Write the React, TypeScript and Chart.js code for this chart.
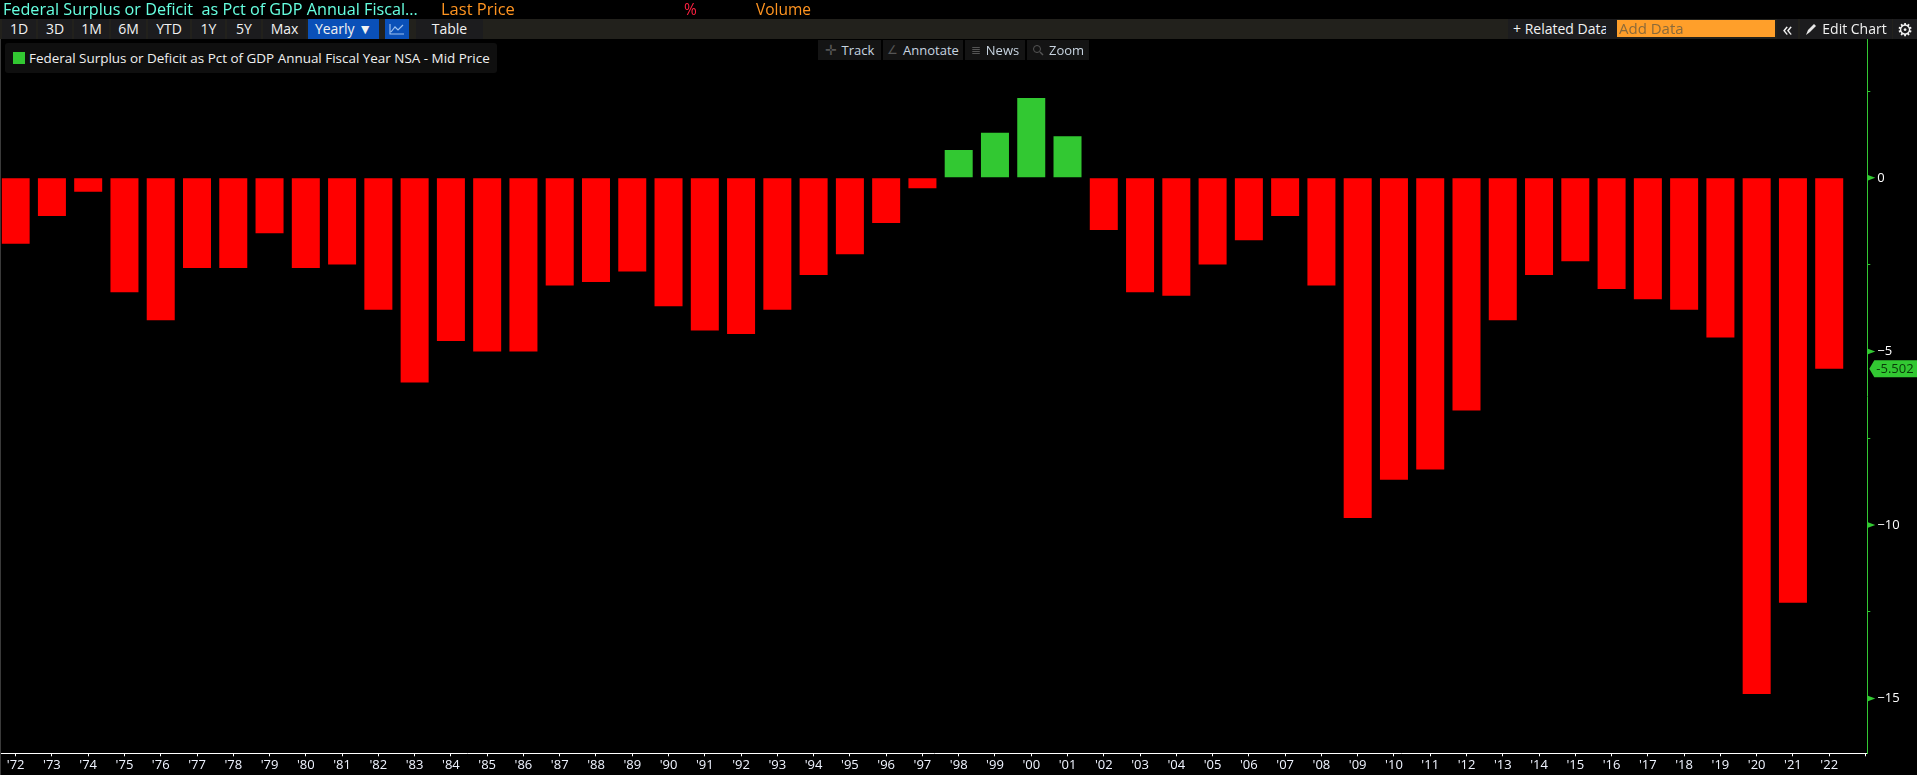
import React, { useEffect, useRef } from "react";
import { Chart, registerables } from "chart.js";

Chart.register(...registerables);

const years = [1972,1973,1974,1975,1976,1977,1978,1979,1980,1981,1982,1983,1984,1985,1986,1987,1988,1989,1990,1991,1992,1993,1994,1995,1996,1997,1998,1999,2000,2001,2002,2003,2004,2005,2006,2007,2008,2009,2010,2011,2012,2013,2014,2015,2016,2017,2018,2019,2020,2021,2022];
const deficitPct = [-1.9,-1.1,-0.4,-3.3,-4.1,-2.6,-2.6,-1.6,-2.6,-2.5,-3.8,-5.9,-4.7,-5.0,-5.0,-3.1,-3.0,-2.7,-3.7,-4.4,-4.5,-3.8,-2.8,-2.2,-1.3,-0.3,0.8,1.3,2.3,1.2,-1.5,-3.3,-3.4,-2.5,-1.8,-1.1,-3.1,-9.8,-8.7,-8.4,-6.7,-4.1,-2.8,-2.4,-3.2,-3.5,-3.8,-4.6,-14.87,-12.24,-5.502];
const xTickValues = [...years, 2023];
const yTickValues = [2.5, 0, -2.5, -5, -7.5, -10, -12.5, -15];
const yMajorTicks = [0, -5, -10, -15];
const lastValueLabel = "-5.502";
const headerTitle = "Federal Surplus or Deficit  as Pct of GDP Annual Fiscal...";
const legendText = "Federal Surplus or Deficit as Pct of GDP Annual Fiscal Year NSA - Mid Price";

const GREEN = "#32c832";
const RED = "#ff0000";
const FONT = "'Open Sans', 'Noto Sans', sans-serif";

const markers = {
  id: "axisMarkers",
  afterDraw(chart: any) {
    const { ctx, scales } = chart;
    const y = scales.y;
    const x0 = y.left;
    ctx.save();
    ctx.fillStyle = GREEN;
    for (const v of yMajorTicks) {
      const p = y.getPixelForValue(v);
      ctx.beginPath();
      ctx.moveTo(x0, p - 3);
      ctx.lineTo(x0 + 8, p);
      ctx.lineTo(x0, p + 3);
      ctx.closePath();
      ctx.fill();
    }
    const last = deficitPct[deficitPct.length - 1];
    const p = y.getPixelForValue(last);
    const L = x0 + 2, R = 1917;
    ctx.beginPath();
    ctx.moveTo(L, p);
    ctx.lineTo(L + 5, p - 8.5);
    ctx.lineTo(R, p - 8.5);
    ctx.lineTo(R, p + 8.5);
    ctx.lineTo(L + 5, p + 8.5);
    ctx.closePath();
    ctx.fill();
    ctx.fillStyle = "#0a3a0a";
    ctx.font = `13px ${FONT}`;
    ctx.textAlign = "left";
    ctx.textBaseline = "middle";
    ctx.fillText(lastValueLabel, L + 7, p + 0.5);
    ctx.restore();
  },
};

type BtnProps = { x: number; w: number; y?: number; h?: number; bg?: string; color?: string; children?: React.ReactNode; size?: number };
const Btn = ({ x, w, y = 19, h = 20, bg = "#1c1c1e", color = "#f2f2f2", children, size = 14 }: BtnProps) => (
  <div style={{ position: "absolute", left: x, top: y, width: w, height: h, background: bg, color, fontSize: size, lineHeight: h + "px", textAlign: "center", whiteSpace: "nowrap", overflow: "hidden", display: "flex", alignItems: "center", justifyContent: "center", gap: 5 }}>
    {children}
  </div>
);

const toolbar: [string, number, number][] = [["1D", 2, 34], ["3D", 38, 34], ["1M", 74, 35], ["6M", 111, 35], ["YTD", 148, 42], ["1Y", 192, 33], ["5Y", 227, 34], ["Max", 263, 43]];

export default function App() {
  const ref = useRef<HTMLCanvasElement>(null);
  useEffect(() => {
    const chart = new Chart(ref.current!, {
      type: "bar",
      data: {
        datasets: [{
          data: years.map((yr, i) => ({ x: yr, y: deficitPct[i] })),
          backgroundColor: deficitPct.map((v) => (v >= 0 ? GREEN : RED)),
          barPercentage: 0.772,
          categoryPercentage: 1,
          borderWidth: 0,
        }],
      },
      options: {
        animation: false,
        responsive: false,
        devicePixelRatio: 1,
        layout: { padding: { left: 1.5, top: 39, right: 0, bottom: 0 } },
        plugins: { legend: { display: false }, tooltip: { enabled: false } },
        scales: {
          x: {
            type: "linear",
            position: "bottom",
            offset: false,
            min: 1971.61,
            max: 2023.05,
            afterFit: (s: any) => { s.height = 21.7; s.paddingLeft = 0; s.paddingRight = 0; },
            afterBuildTicks: (s: any) => { s.ticks = xTickValues.map((value) => ({ value })); },
            grid: { offset: false, drawOnChartArea: false, drawTicks: true, tickLength: 3, tickColor: "#ffffff", tickWidth: 1 },
            border: { color: "#ffffff", width: 1 },
            ticks: {
              autoSkip: false, maxRotation: 0, color: "#f0f4ff", padding: 1,
              font: { family: FONT, size: 13 },
              callback: (v: any) => (v === 2023 ? "" : "'" + String(v).slice(2)),
            },
          },
          y: {
            type: "linear",
            position: "right",
            min: -16.58,
            max: 4.0,
            afterFit: (s: any) => { s.width = 49.7; s.paddingTop = 0; s.paddingBottom = 0; },
            afterBuildTicks: (s: any) => { s.ticks = yTickValues.map((value) => ({ value })); },
            grid: { drawOnChartArea: false, drawTicks: true, tickLength: 3, tickColor: GREEN, tickWidth: 1 },
            border: { color: GREEN, width: 1 },
            ticks: {
              autoSkip: false, color: "#ffffff", padding: 7,
              font: { family: FONT, size: 13 },
              callback: (v: any) => (yMajorTicks.includes(v) ? (v < 0 ? "\u2212" + Math.abs(v) : String(v)) : ""),
            },
          },
        },
      },
      plugins: [markers],
    } as any);
    return () => chart.destroy();
  }, []);

  return (
    <div style={{ position: "fixed", left: 0, top: 0, width: 1917, height: 775, background: "#000", overflow: "hidden", fontFamily: FONT }}>
      <canvas ref={ref} width={1917} height={775} style={{ position: "absolute", left: 0, top: 0, width: 1917, height: 775 }} />
      <div style={{ position: "absolute", left: 0, top: 39, width: 1, height: 736, background: "#3a3a3a" }} />
      <div style={{ position: "absolute", left: 3, top: 0, color: "#66ffe0", fontSize: 16.2, lineHeight: "18px", whiteSpace: "pre" }}>{headerTitle}</div>
      <div style={{ position: "absolute", left: 441, top: 0, color: "#ff9420", fontSize: 16.5, lineHeight: "18px" }}>Last Price</div>
      <div style={{ position: "absolute", left: 684, top: 0, color: "#ff2040", fontSize: 15.5, lineHeight: "18px" }}>%</div>
      <div style={{ position: "absolute", left: 756, top: 0, color: "#ff9420", fontSize: 15.5, lineHeight: "18px" }}>Volume</div>

      <div style={{ position: "absolute", left: 0, top: 19, width: 1917, height: 20, background: "#22211c" }} />
      {toolbar.map(([t, x, w]) => <Btn key={t} x={x} w={w}>{t}</Btn>)}
      <Btn x={308} w={71} bg="#0a50b8">Yearly ▼</Btn>
      <Btn x={385} w={24} bg="#0a50b8">
        <svg width="16" height="12" viewBox="0 0 16 12"><path d="M1 1V11H15M2 9L6 4L9 7L14 2" fill="none" stroke="#9cc0ef" strokeWidth="1.2" /></svg>
      </Btn>
      <Btn x={416} w={67}>Table</Btn>

      <div style={{ position: "absolute", left: 1508, top: 19, width: 98, height: 20, background: "#1c1c1e", color: "#f2f2f2", fontSize: 14, lineHeight: "20px", whiteSpace: "nowrap", overflow: "hidden", paddingLeft: 5, boxSizing: "border-box" }}>+ Related Data</div>
      <div style={{ position: "absolute", left: 1606, top: 19, width: 11, height: 20, background: "#1c1c1e" }} />
      <div style={{ position: "absolute", left: 1617, top: 20, width: 158, height: 17, background: "#ff9f2a", color: "#8a6a3a", fontSize: 15, lineHeight: "17px", paddingLeft: 2, boxSizing: "border-box" }}>Add Data</div>
      <Btn x={1777} w={21} size={20}>«</Btn>
      <Btn x={1800} w={92}>
        <svg width="12" height="13" viewBox="0 0 12 13"><path d="M1 12L3 7L9 1L11 3L5 9Z" fill="#e8e8e8" /></svg>
        Edit Chart
      </Btn>
      <Btn x={1893} w={24} size={18}>⚙</Btn>

      <div style={{ position: "absolute", left: 5, top: 43, width: 492, height: 30, background: "#0f0f0f", borderRadius: 3 }} />
      <div style={{ position: "absolute", left: 13, top: 52, width: 12, height: 12, background: GREEN }} />
      <div style={{ position: "absolute", left: 29, top: 49, color: "#f0f0f0", fontSize: 13.45, lineHeight: "18px", whiteSpace: "nowrap" }}>{legendText}</div>

      <Btn x={818} w={63} y={40} bg="#141414" color="#c8d4e0" size={13}><span style={{ color: "#555", fontSize: 14 }}>✛</span> Track</Btn>
      <Btn x={883} w={80} y={40} bg="#141414" color="#c8d4e0" size={13}><span style={{ color: "#555", fontSize: 12 }}>∠</span> Annotate</Btn>
      <Btn x={965} w={60} y={40} bg="#141414" color="#c8d4e0" size={13}><span style={{ color: "#555", fontSize: 12 }}>≣</span> News</Btn>
      <Btn x={1027} w={62} y={40} bg="#141414" color="#c8d4e0" size={13}>
        <svg width="12" height="12" viewBox="0 0 12 12"><circle cx="5" cy="5" r="3.5" fill="none" stroke="#555" /><path d="M8 8L11 11" stroke="#555" strokeWidth="1.4" /></svg>
        Zoom
      </Btn>
    </div>
  );
}
